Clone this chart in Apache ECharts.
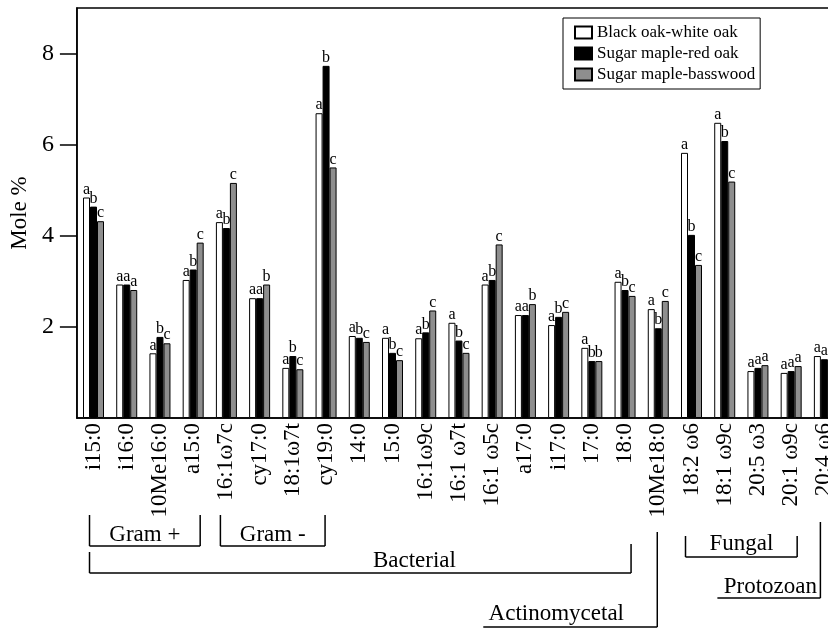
<!DOCTYPE html>
<html>
<head>
<meta charset="utf-8">
<script src="https://cdn.jsdelivr.net/npm/echarts@6/dist/echarts.min.js"></script>
<style>
html,body{margin:0;padding:0;background:#fff;overflow:hidden;width:828px;height:628px;}
#chart{width:860px;height:628px;}
</style>
</head>
<body>
<div id="chart"></div>
<script>
const categories = ['i15:0','i16:0','10Me16:0','a15:0','16:1ω7c','cy17:0','18:1ω7t','cy19:0','14:0','15:0','16:1ω9c','16:1 ω7t','16:1 ω5c','a17:0','i17:0','17:0','18:0','10Me18:0','18:2 ω6','18:1 ω9c','20:5 ω3','20:1 ω9c','20:4 ω6'];
const seriesNames = ['Black oak-white oak','Sugar maple-red oak','Sugar maple-basswood'];
const blackOakWhiteOak = [4.84,2.93,1.42,3.03,4.30,2.63,1.10,6.69,1.80,1.76,1.75,2.09,2.93,2.26,2.04,1.54,2.99,2.39,5.82,6.48,1.03,0.99,1.36];
const sugarMapleRedOak = [4.64,2.93,1.78,3.26,4.17,2.63,1.36,7.73,1.76,1.43,1.88,1.70,3.03,2.26,2.22,1.25,2.81,1.97,4.02,6.08,1.10,1.03,1.29];
const sugarMapleBasswood = [4.32,2.81,1.64,3.85,5.16,2.93,1.07,5.50,1.67,1.27,2.36,1.43,3.81,2.50,2.33,1.25,2.68,2.57,3.36,5.19,1.16,1.14,1.30];
const lettersBW = ['a','a','a','a','a','a','a','a','a','a','a','a','a','a','a','a','a','a','a','a','a','a','a'];
const lettersSR = ['b','a','b','b','b','a','b','b','b','b','b','b','b','a','b','b','b','b','b','b','a','a','a'];
const lettersSB = ['c','a','c','c','c','b','c','c','c','c','c','c','c','b','c','b','c','c','c','c','a','a','a'];
const yTicks = [2,4,6,8];
const yAxisTitle = 'Mole %';
const brackets = [
  {name:'Gram +', from:'i15:0', to:'a15:0'},
  {name:'Gram -', from:'16:1ω7c', to:'cy19:0'},
  {name:'Bacterial', from:'i15:0', to:'18:0'},
  {name:'Fungal', from:'18:2 ω6', to:'20:1 ω9c'}
];
const ells = [
  {name:'Actinomycetal', at:'10Me18:0'},
  {name:'Protozoan', at:'20:4 ω6'}
];

const FONT = "'Liberation Serif','Times New Roman',serif";
const chart = echarts.init(document.getElementById('chart'));

function mkSeries(name, data, letters, color) {
  return {
    name: name,
    type: 'bar',
    data: data,
    barWidth: 7,
    barGap: '0%',
    itemStyle: {color: color, borderColor: '#000', borderWidth: 1},
    label: {
      show: true, position: 'top', distance: 0,
      fontFamily: FONT, fontSize: 16, color: '#000',
      formatter: p => letters[p.dataIndex]
    },
    emphasis: {disabled: true},
    animation: false
  };
}

chart.setOption({
  animation: false,
  textStyle: {fontFamily: FONT, color: '#000'},
  grid: {left: 75, top: 8, width: 766, height: 410, show: true, borderColor: '#000', borderWidth: 1.5, backgroundColor: 'transparent'},
  legend: {
    orient: 'vertical', left: 563, top: 18,
    padding: [6, 5, 6, 11],
    itemGap: 4, itemWidth: 17, itemHeight: 12, icon: 'rect',
    borderColor: '#000', borderWidth: 1,
    textStyle: {fontFamily: FONT, fontSize: 17, color: '#000'},
    data: seriesNames
  },
  xAxis: {
    type: 'category',
    data: categories,
    axisLine: {lineStyle: {color: '#000', width: 1.5}},
    axisTick: {show: false},
    axisLabel: {rotate: 90, interval: 0, fontFamily: FONT, fontSize: 23, color: '#000', margin: 5}
  },
  yAxis: {
    type: 'value', min: 0, max: 9, interval: 1,
    name: yAxisTitle, nameLocation: 'middle', nameGap: 42, nameRotate: 90,
    nameTextStyle: {fontFamily: FONT, fontSize: 23, color: '#000'},
    splitLine: {show: false},
    axisLine: {show: true, lineStyle: {color: '#000', width: 1.5}},
    axisTick: {show: true, inside: false, length: 17, lineStyle: {color: '#000', width: 1.5}, customValues: yTicks},
    axisLabel: {fontFamily: FONT, fontSize: 24, color: '#000', margin: 23, customValues: yTicks}
  },
  series: [
    mkSeries(seriesNames[0], blackOakWhiteOak, lettersBW, '#ffffff'),
    mkSeries(seriesNames[1], sugarMapleRedOak, lettersSR, '#000000'),
    mkSeries(seriesNames[2], sugarMapleBasswood, lettersSB, '#8e8e8e')
  ]
});

function cx(name) { return chart.convertToPixel({xAxisIndex: 0}, name); }
const LS = {stroke: '#000', lineWidth: 1.5};
const els = [];
function line(x1,y1,x2,y2){ els.push({type:'line', shape:{x1,y1,x2,y2}, style: LS, silent: true}); }
function txt(t,x,y){ els.push({type:'text', silent:true, style:{text:t, x:x, y:y, font:'23px ' + FONT, fill:'#000', align:'center', verticalAlign:'middle', textAlign:'center', textVerticalAlign:'middle'}}); }

(function(){
  const gp = brackets[0], gm = brackets[1], ba = brackets[2], fu = brackets[3];
  let l = cx(gp.from) - 4, r = cx(gp.to) + 7;
  line(l,515,l,546); line(l,546,r,546); line(r,515,r,546); txt(gp.name,(l+r)/2,535);
  l = cx(gm.from) - 6; r = cx(gm.to) - 1;
  line(l,515,l,546); line(l,546,r,546); line(r,515,r,546); txt(gm.name,(l+r)/2,535);
  l = cx(ba.from) - 4; r = cx(ba.to) + 6;
  line(l,552,l,573); line(l,573,r,573); line(r,544,r,573); txt(ba.name, l + 0.6*(r-l), 561);
  l = cx(fu.from) - 6; r = cx(fu.to) + 6;
  line(l,536,l,557); line(l,557,r,557); line(r,536,r,557); txt(fu.name,(l+r)/2,544);
  const ac = ells[0], pr = ells[1];
  let v = cx(ac.at) - 1;
  line(v,532,v,627); line(v-174,627,v,627); txt(ac.name, v-101, 614);
  v = cx(pr.at) - 4;
  line(v,522,v,598); line(v-103,598,v,598); txt(pr.name, v-50, 587);
})();
chart.setOption({graphic: {elements: els}});
</script>
</body>
</html>
